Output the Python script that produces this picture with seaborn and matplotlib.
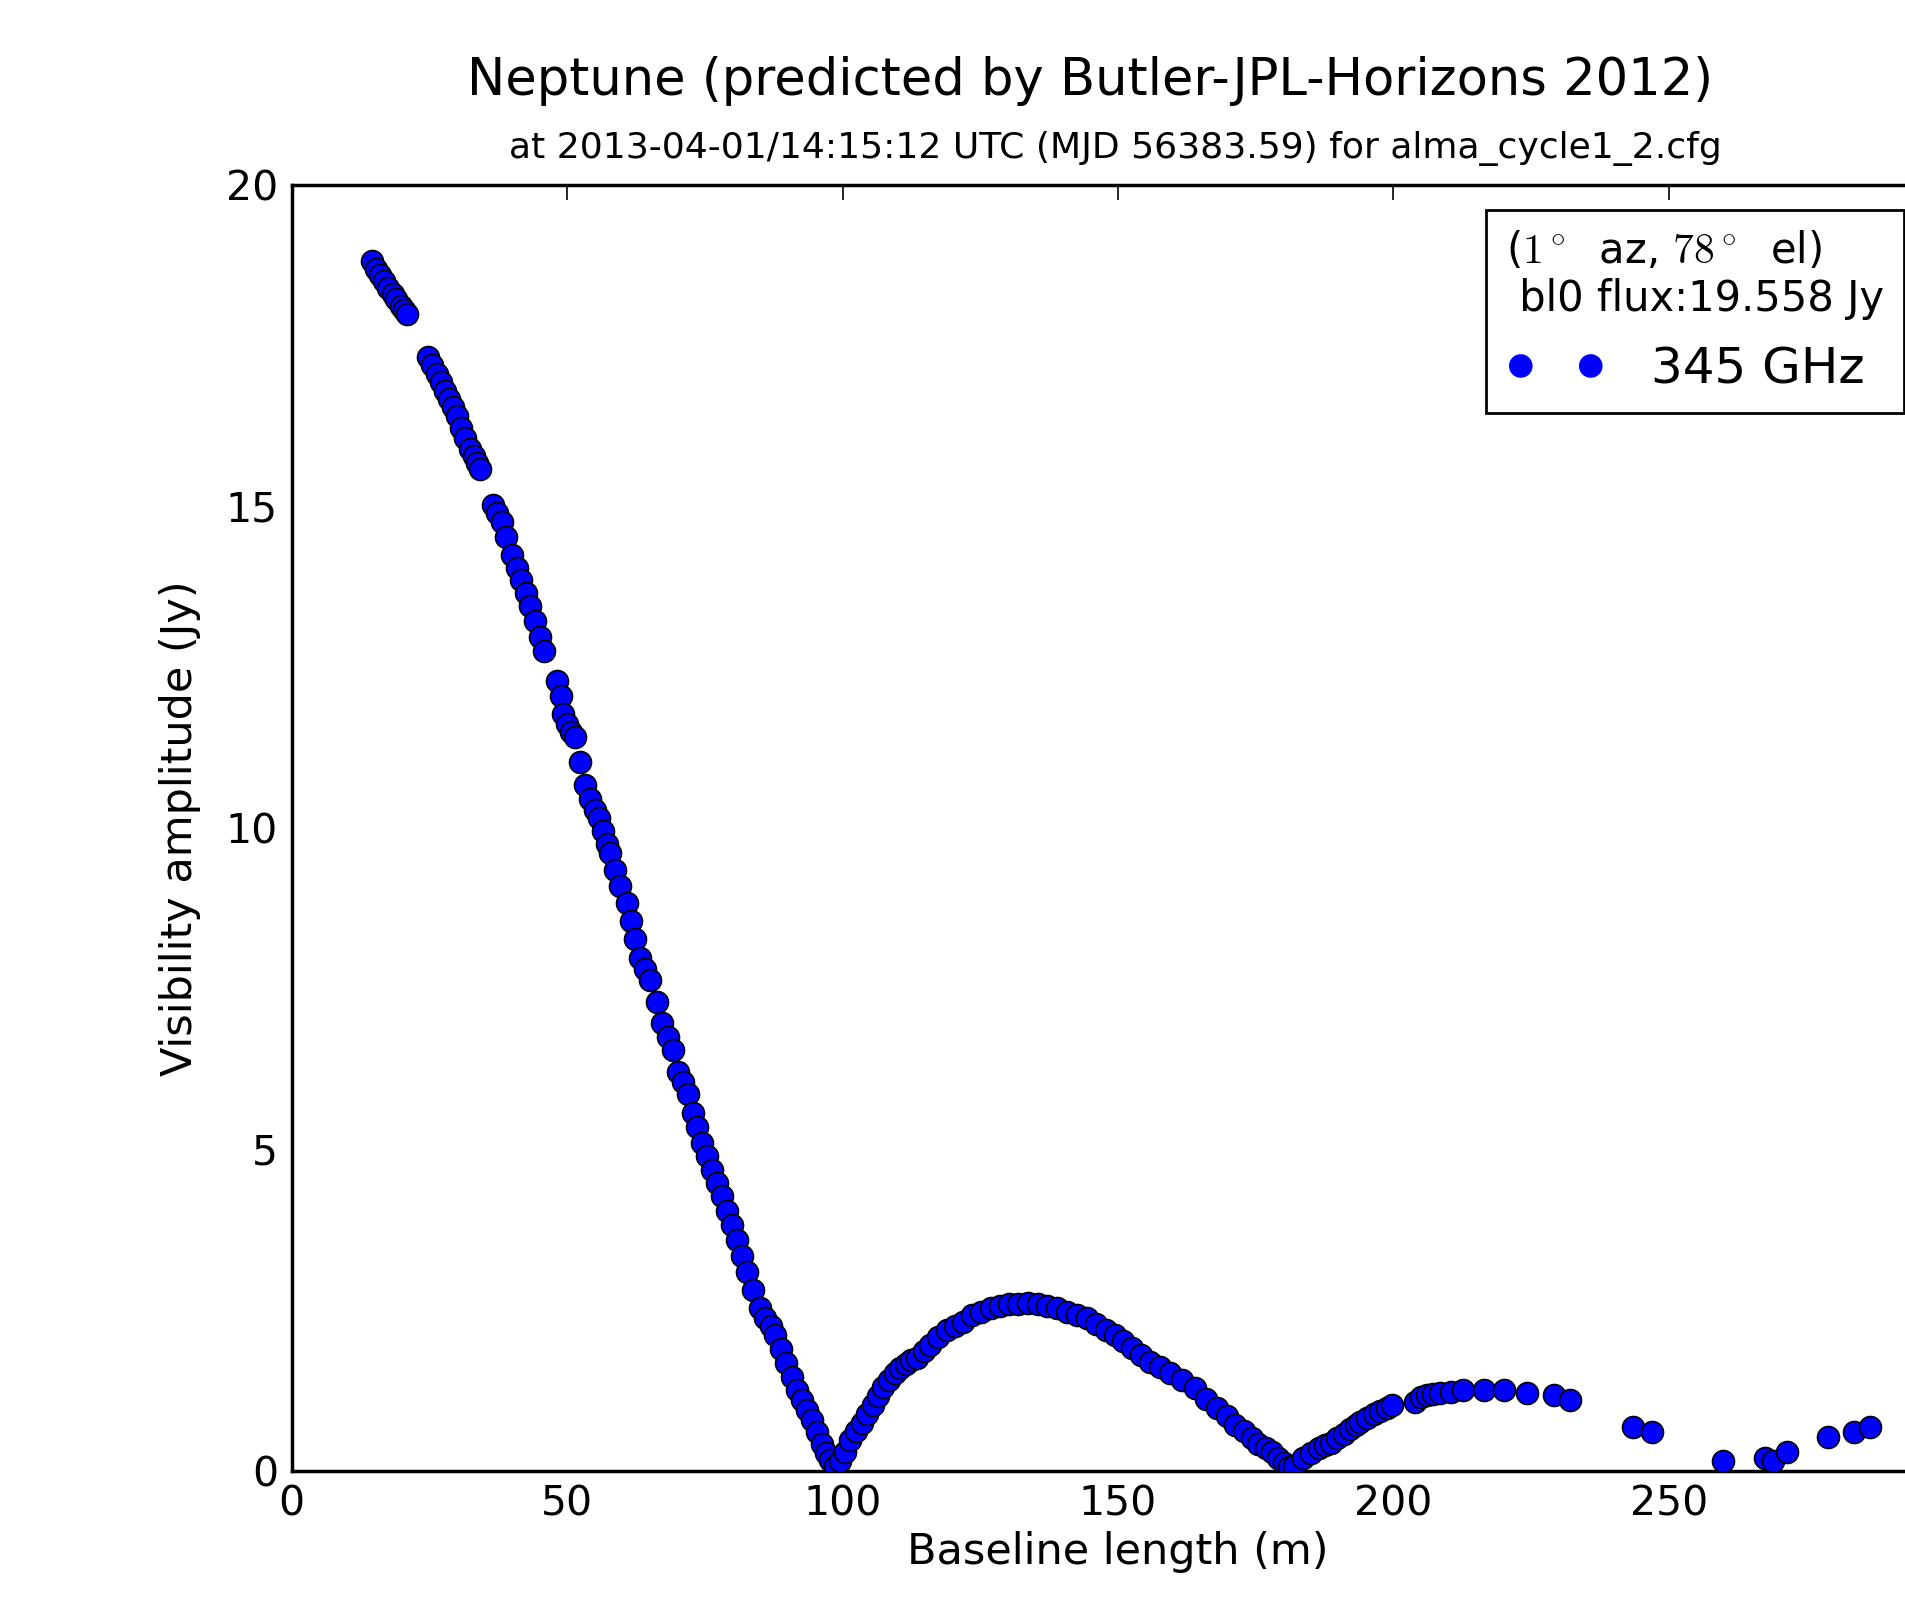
import seaborn as sns
import matplotlib.pyplot as plt
import numpy as np
import pandas as pd

# baseline length (m) / visibility amplitude (Jy), one list per run of points
seg1_x = [14.5, 15.3, 16.0, 16.8, 17.5, 18.3, 19.0, 19.8, 20.4, 20.9]
seg1_y = [18.81, 18.70, 18.60, 18.50, 18.40, 18.30, 18.22, 18.12, 18.05, 18.00]

seg2_x = [24.8, 25.5, 26.3, 27.0, 27.8, 28.5, 29.3, 30.0, 30.8, 31.5, 32.3, 33.0, 33.7, 34.2]
seg2_y = [17.33, 17.20, 17.06, 16.93, 16.80, 16.67, 16.55, 16.40, 16.22, 16.06, 15.90, 15.78, 15.68, 15.58]

seg3_x = [36.6, 37.3, 38.1, 38.9, 39.9, 40.8, 41.6, 42.5, 43.3, 44.1, 45.0, 45.7]
seg3_y = [15.02, 14.90, 14.76, 14.52, 14.25, 14.05, 13.85, 13.65, 13.45, 13.22, 12.97, 12.75]

seg4_x = [48.1, 48.8, 49.3, 50.0, 50.7, 51.4, 52.4, 53.3, 54.1, 55.0, 55.7, 56.5, 57.2, 57.8,
          58.7, 59.6, 60.8, 61.5, 62.3, 63.2, 64.1, 65.1, 66.3, 67.2, 68.3, 69.3, 70.2, 71.1,
          72.0, 72.9, 73.6, 74.4, 75.3, 76.3, 77.2, 78.1, 79.0, 79.9, 80.8, 81.7, 82.6, 83.8,
          85.0, 86.0, 87.0, 87.8, 88.8, 89.8, 90.8, 91.7, 92.6, 93.5, 94.4, 95.3, 96.2, 97.0, 97.7]
seg4_y = [12.28, 12.05, 11.78, 11.62, 11.50, 11.42, 11.03, 10.67, 10.45, 10.28, 10.15, 9.95, 9.75, 9.61,
          9.35, 9.10, 8.83, 8.55, 8.28, 7.98, 7.80, 7.64, 7.30, 6.96, 6.75, 6.55, 6.21, 6.05,
          5.87, 5.56, 5.35, 5.10, 4.90, 4.68, 4.48, 4.27, 4.05, 3.82, 3.59, 3.35, 3.10, 2.82,
          2.53, 2.38, 2.25, 2.12, 1.90, 1.68, 1.46, 1.26, 1.10, 0.95, 0.79, 0.60, 0.42, 0.28, 0.17]

lobe1_x = [98.6, 99.5, 100.4, 101.4, 102.5, 103.5, 104.5, 105.5, 106.5, 107.4, 108.5, 109.5, 110.5,
           111.5, 112.5, 113.5, 114.7, 115.9, 117.4, 118.9, 120.4, 121.9, 123.5, 125.2, 126.9, 128.5,
           130.2, 131.9, 133.7, 135.4, 137.2, 138.9, 140.7, 142.5, 144.4, 146.0, 147.8, 149.5, 151.0,
           152.5, 154.2, 155.8, 157.6, 159.5, 161.7, 164.0, 165.9, 167.9, 169.8, 171.3, 172.8, 174.3,
           175.5, 176.8, 177.9, 179.0, 180.1, 181.0]
lobe1_y = [0.08, 0.16, 0.30, 0.48, 0.62, 0.74, 0.88, 1.02, 1.16, 1.31, 1.42, 1.52, 1.60,
           1.67, 1.72, 1.76, 1.86, 1.96, 2.08, 2.19, 2.26, 2.32, 2.42, 2.48, 2.53, 2.57,
           2.59, 2.60, 2.61, 2.60, 2.57, 2.53, 2.48, 2.43, 2.38, 2.28, 2.20, 2.12, 2.02,
           1.91, 1.80, 1.70, 1.62, 1.52, 1.42, 1.29, 1.12, 0.98, 0.85, 0.72, 0.62, 0.51,
           0.42, 0.35, 0.30, 0.20, 0.12, 0.06]

rise2_x = [182.0, 183.6, 185.0, 186.5, 187.6, 188.6, 189.8, 191.0, 192.2, 193.2, 194.0, 195.2,
           196.5, 197.6, 198.8, 199.8]
rise2_y = [0.08, 0.20, 0.28, 0.35, 0.40, 0.43, 0.52, 0.58, 0.65, 0.72, 0.76, 0.82,
           0.88, 0.93, 0.98, 1.03]

lobe2_x = [204.0, 205.0, 206.1, 207.2, 208.5, 210.5, 212.7, 216.4, 220.0, 224.3, 229.1, 232.1]
lobe2_y = [1.07, 1.15, 1.18, 1.20, 1.21, 1.23, 1.26, 1.26, 1.26, 1.22, 1.18, 1.10]

far_x = [243.6, 246.9, 259.9, 267.5, 269.0, 271.5, 279.0, 283.6, 286.6]
far_y = [0.69, 0.61, 0.16, 0.20, 0.15, 0.29, 0.53, 0.60, 0.69]

x_ticks = [0, 50, 100, 150, 200, 250, 300]
y_ticks = [0, 5, 10, 15, 20]

df = pd.DataFrame({
    "baseline": seg1_x + seg2_x + seg3_x + seg4_x + lobe1_x + rise2_x + lobe2_x + far_x,
    "amp": seg1_y + seg2_y + seg3_y + seg4_y + lobe1_y + rise2_y + lobe2_y + far_y,
})

sns.set_style("white")
plt.rcParams["font.family"] = ["DejaVu Sans"]
plt.rcParams["mathtext.fontset"] = "cm"
plt.rcParams["text.color"] = "black"
plt.rcParams["axes.labelcolor"] = "black"

fig = plt.figure(figsize=(19.06, 15.97), dpi=100)
# axes run past the right edge of the figure, like the original
ax = fig.add_axes([0.1531, 0.0789, 0.8669, 0.8053])

sns.scatterplot(data=df, x="baseline", y="amp", ax=ax, color="blue", edgecolor="black",
                linewidth=1.2, s=250, label="345 GHz", zorder=3)

ax.set_xlim(0, 300)
ax.set_ylim(0, 20)
ax.set_xticks(x_ticks)
ax.set_yticks(y_ticks)
ax.tick_params(direction="in", length=11, width=1.2, labelsize=29.5, pad=10,
               top=True, right=True, colors="black")
for sp in ax.spines.values():
    sp.set_linewidth(2.5)
    sp.set_color("black")

ax.set_xlabel("Baseline length (m)", fontsize=31)
ax.set_ylabel("Visibility amplitude (Jy)", fontsize=31)
ax.xaxis.set_label_coords(0.5, -0.047)
ax.yaxis.set_label_coords(-0.055, 0.5)

fig.text(0.572, 1 - 95 / 1597, "Neptune (predicted by Butler-JPL-Horizons 2012)",
         ha="center", va="baseline", fontsize=36.8)
fig.text(1115 / 1906, 1 - 158 / 1597,
         "at 2013-04-01/14:15:12 UTC (MJD 56383.59) for alma_cycle1_2.cfg",
         ha="center", va="baseline", fontsize=26)

leg = ax.legend(title=r"($1^\circ$  az, $78^\circ$  el)" + "\n bl0 flux:19.558 Jy",
                loc="upper left", bbox_to_anchor=(0.7226, 0.9806), borderaxespad=0,
                scatterpoints=2, scatteryoffsets=[0.5], fontsize=36, title_fontsize=30,
                alignment="left", handlelength=2.0, handletextpad=0.9,
                fancybox=False, framealpha=1, edgecolor="black")
leg.get_frame().set_linewidth(2.0)
for h in leg.legend_handles:
    h.set_edgecolor("blue")

fig.savefig("out.png", dpi=100)
